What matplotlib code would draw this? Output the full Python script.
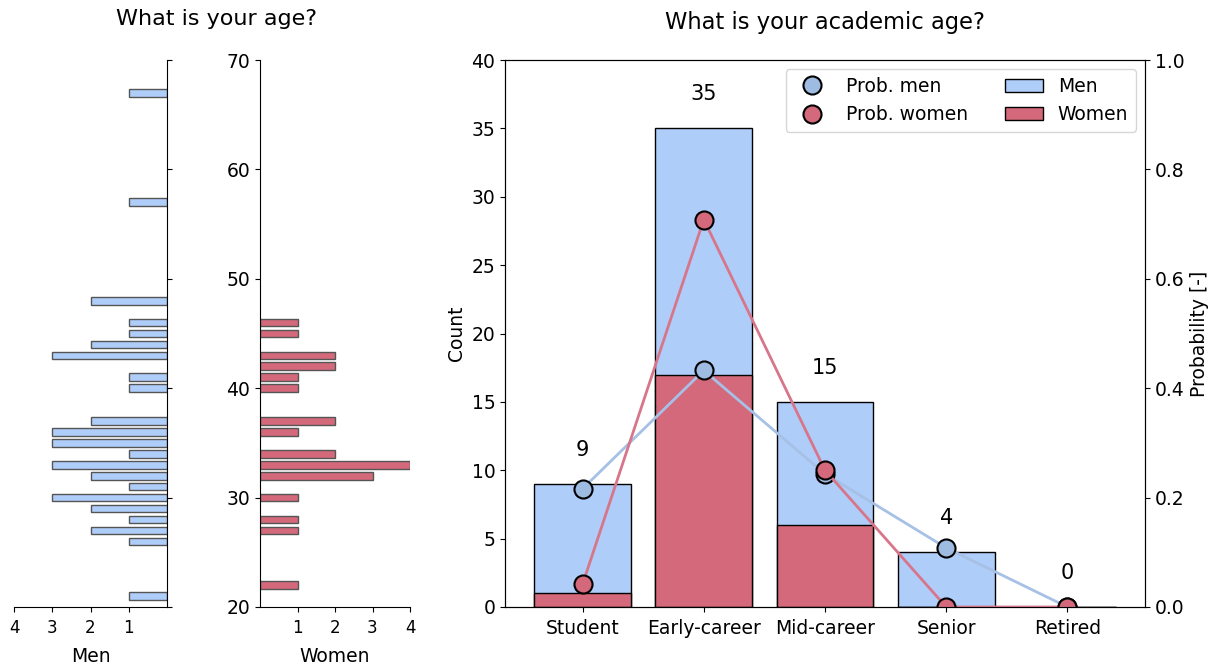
import matplotlib.pyplot as plt
from matplotlib.lines import Line2D
from matplotlib.patches import Patch

# age histograms (age -> count)
men_ages = [67, 57, 48, 46, 45, 44, 43, 41, 40, 37, 36, 35, 34, 33, 32, 31, 30, 29, 28, 27, 26, 21]
men_age_counts = [1, 1, 2, 1, 1, 2, 3, 1, 1, 2, 3, 3, 1, 3, 2, 1, 3, 2, 1, 2, 1, 1]
women_ages = [46, 45, 43, 42, 41, 40, 37, 36, 34, 33, 32, 30, 28, 27, 22]
women_age_counts = [1, 1, 2, 2, 1, 1, 2, 1, 2, 4, 3, 1, 1, 1, 1]

# academic age
categories = ["Student", "Early-career", "Mid-career", "Senior", "Retired"]
total_counts = [9, 35, 15, 4, 0]
men_counts = [8, 16, 9, 4, 0]
women_counts = [1, 17, 6, 0, 0]

prob_men = [c / sum(men_counts) for c in men_counts]
prob_women = [c / sum(women_counts) for c in women_counts]

men_color = "#afcdf9"
women_color = "#d3697b"
men_marker = "#9ebbe2"
men_line = "#a6c0e6"
women_line = "#d7768a"

FS = 13.5

fig = plt.figure(figsize=(12.21, 6.69), dpi=100)
W, H = 1221, 669

def box(x0, x1, y0, y1):
    return [x0 / W, 1 - y1 / H, (x1 - x0) / W, (y1 - y0) / H]

# --- age: men (mirrored) ---
ax_m = fig.add_axes(box(14, 167, 60, 607))
ax_m.barh(men_ages, men_age_counts, height=0.7, color=men_color, edgecolor="#555555", linewidth=1)
ax_m.set_xlim(4, 0)
ax_m.set_ylim(20, 70)
ax_m.set_xticks([4, 3, 2, 1])
ax_m.yaxis.tick_right()
ax_m.set_yticklabels([])
ax_m.spines["left"].set_visible(False)
ax_m.spines["top"].set_visible(False)
ax_m.set_xlabel("Men", fontsize=FS, labelpad=7)
ax_m.tick_params(axis="x", labelsize=12, pad=5)

# --- age: women ---
ax_w = fig.add_axes(box(260, 410, 60, 607))
ax_w.barh(women_ages, women_age_counts, height=0.7, color=women_color, edgecolor="#555555", linewidth=1)
ax_w.set_xlim(0, 4)
ax_w.set_ylim(20, 70)
ax_w.set_xticks([1, 2, 3, 4])
ax_w.spines["right"].set_visible(False)
ax_w.spines["top"].set_visible(False)
ax_w.set_xlabel("Women", fontsize=FS, labelpad=7)
ax_w.tick_params(axis="x", labelsize=12, pad=5)
ax_w.tick_params(axis="y", labelsize=FS)

fig.text(216 / W, 1 - 19 / H, "What is your age?", ha="center", va="center", fontsize=16)

# --- academic age ---
ax = fig.add_axes(box(505, 1145, 60, 607))
x = range(len(categories))
ax.bar(x, total_counts, width=0.8, color=men_color, edgecolor="black", linewidth=1)
ax.bar(x, women_counts, width=0.8, color=women_color, edgecolor="black", linewidth=1)
for xi, c in zip(x, total_counts):
    ax.text(xi, c + 2.5, str(c), ha="center", va="center", fontsize=15)
ax.set_ylim(0, 40)
ax.set_xticks(list(x))
ax.set_xticklabels(categories)
ax.set_ylabel("Count", fontsize=FS)
ax.tick_params(labelsize=FS)
ax.tick_params(axis="x", pad=5)
fig.text(825 / W, 1 - 22 / H, "What is your academic age?", ha="center", va="center", fontsize=16.3)

ax2 = ax.twinx()
ax2.plot(x, prob_men, color=men_line, linewidth=2, marker="o", markersize=13,
         markerfacecolor=men_marker, markeredgecolor="black", markeredgewidth=1.5)
ax2.plot(x, prob_women, color=women_line, linewidth=2, marker="o", markersize=13,
         markerfacecolor=women_color, markeredgecolor="black", markeredgewidth=1.5)
ax2.set_ylim(0, 1)
ax2.set_ylabel("Probability [-]", fontsize=FS)
ax2.tick_params(labelsize=FS)

handles = [
    Line2D([], [], linestyle="none", marker="o", markersize=13, markerfacecolor=men_marker,
           markeredgecolor="black", markeredgewidth=1.5, label="Prob. men"),
    Line2D([], [], linestyle="none", marker="o", markersize=13, markerfacecolor=women_color,
           markeredgecolor="black", markeredgewidth=1.5, label="Prob. women"),
    Patch(facecolor=men_color, edgecolor="black", label="Men"),
    Patch(facecolor=women_color, edgecolor="black", label="Women"),
]
ax2.legend(handles=handles, ncol=2, loc="upper right", fontsize=FS)

fig.savefig("out.png", dpi=100)
